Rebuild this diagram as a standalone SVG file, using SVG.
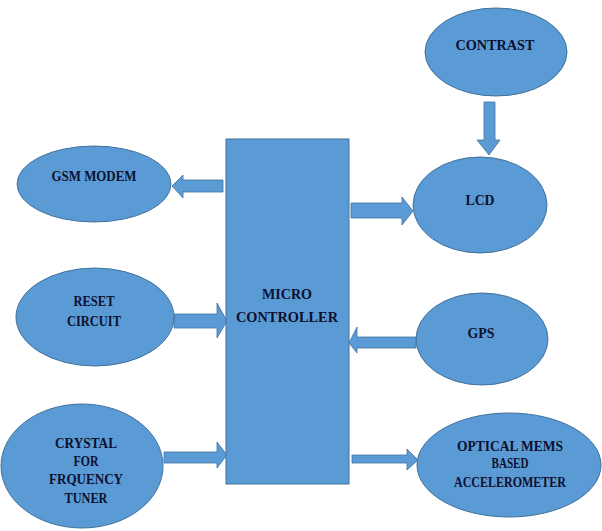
<svg xmlns="http://www.w3.org/2000/svg" width="602" height="531" viewBox="0 0 602 531">
<style>
.n{fill:#5b9bd5;stroke:#41719c;stroke-width:1}
.a{fill:#5b9bd5;stroke:#41719c;stroke-width:0.8}
.t{font-family:"Liberation Serif","Times New Roman",serif;font-weight:bold;font-size:15.5px;fill:#0d1030;text-anchor:middle}
.s{font-size:14px}
</style>
<rect width="602" height="531" fill="#ffffff"/>
<g id="connectors">
<polygon class="a" points="223,180 183,180 183,175 172,186 183,198 183,192 223,192"/>
<polygon class="a" points="174,314 217,314 217,303 227,321 217,338 217,328 174,328"/>
<polygon class="a" points="164,452 217,452 217,442 227,455 217,468 217,463 164,463"/>
<polygon class="a" points="484,102 495,102 495,140 500,140 489,155 477,140 484,140"/>
<polygon class="a" points="351,203 402,203 402,197 413,211 402,225 402,218 351,218"/>
<polygon class="a" points="416,337 357,337 357,327 349,343 357,353 357,348 416,348"/>
<polygon class="a" points="352,455 407,455 407,449 418,460 407,470 407,463 352,463"/>
</g>
<g id="microcontroller">
<rect class="n" x="226" y="139" width="123" height="345"/>
<text class="t" x="287" y="299" textLength="50" lengthAdjust="spacingAndGlyphs">MICRO</text>
<text class="t" x="287" y="322" textLength="102" lengthAdjust="spacingAndGlyphs">CONTROLLER</text>
</g>
<g id="gsm">
<ellipse class="n" cx="94" cy="184" rx="77" ry="38"/>
<text class="t" x="94" y="181" textLength="85" lengthAdjust="spacingAndGlyphs">GSM MODEM</text>
</g>
<g id="reset">
<ellipse class="n" cx="95" cy="317" rx="79" ry="49"/>
<text class="t" x="94" y="306" textLength="41" lengthAdjust="spacingAndGlyphs">RESET</text>
<text class="t" x="94" y="326" textLength="54" lengthAdjust="spacingAndGlyphs">CIRCUIT</text>
</g>
<g id="crystal">
<ellipse class="n" cx="82" cy="466" rx="81" ry="62"/>
<text class="t" x="86" y="448" textLength="62" lengthAdjust="spacingAndGlyphs">CRYSTAL</text>
<text class="t" x="86" y="466" textLength="25" lengthAdjust="spacingAndGlyphs">FOR</text>
<text class="t" x="86" y="484" textLength="74" lengthAdjust="spacingAndGlyphs">FRQUENCY</text>
<text class="t" x="86" y="503" textLength="43" lengthAdjust="spacingAndGlyphs">TUNER</text>
</g>
<g id="contrast">
<ellipse class="n" cx="496" cy="52" rx="71" ry="44"/>
<text class="t" x="495" y="50" textLength="79" lengthAdjust="spacingAndGlyphs">CONTRAST</text>
</g>
<g id="lcd">
<ellipse class="n" cx="480" cy="205" rx="67" ry="48"/>
<text class="t" x="480" y="205" textLength="29" lengthAdjust="spacingAndGlyphs">LCD</text>
</g>
<g id="gps">
<ellipse class="n" cx="482" cy="339" rx="66" ry="46"/>
<text class="t" x="481" y="338" textLength="27" lengthAdjust="spacingAndGlyphs">GPS</text>
</g>
<g id="accelerometer">
<ellipse class="n" cx="509" cy="465" rx="92" ry="52"/>
<text class="t s" x="510" y="451" textLength="106" lengthAdjust="spacingAndGlyphs">OPTICAL MEMS</text>
<text class="t s" x="510" y="468" textLength="37" lengthAdjust="spacingAndGlyphs">BASED</text>
<text class="t s" x="510" y="487" textLength="112" lengthAdjust="spacingAndGlyphs">ACCELEROMETER</text>
</g>
</svg>
